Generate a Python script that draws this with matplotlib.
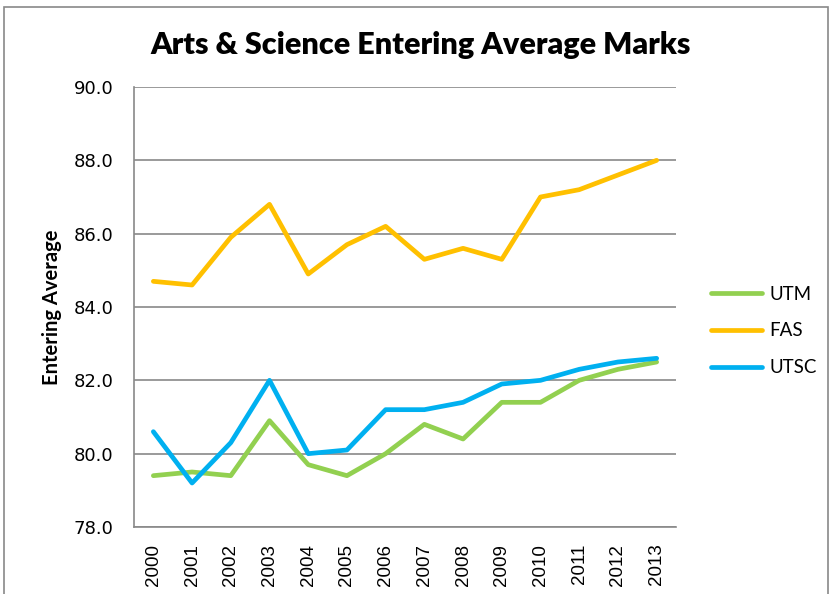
import matplotlib.pyplot as plt
from matplotlib.patches import Rectangle

# Entering averages
years = ['2000', '2001', '2002', '2003', '2004', '2005', '2006',
         '2007', '2008', '2009', '2010', '2011', '2012', '2013']
utm = [79.4, 79.5, 79.4, 80.9, 79.7, 79.4, 80.0, 80.8, 80.4, 81.4, 81.4, 82.0, 82.3, 82.5]
fas = [84.7, 84.6, 85.9, 86.8, 84.9, 85.7, 86.2, 85.3, 85.6, 85.3, 87.0, 87.2, 87.6, 88.0]
utsc = [80.6, 79.2, 80.3, 82.0, 80.0, 80.1, 81.2, 81.2, 81.4, 81.9, 82.0, 82.3, 82.5, 82.6]
yticks = [78.0, 80.0, 82.0, 84.0, 86.0, 88.0, 90.0]

W, H = 830, 594
fig = plt.figure(figsize=(W / 100, H / 100), dpi=100)
ax = fig.add_axes([134 / W, 1 - 527 / H, (676 - 134) / W, (527 - 87) / H])

x = range(len(years))
ax.plot(x, utm, color='#92D050', lw=3.4, label='UTM', solid_capstyle='round')
ax.plot(x, fas, color='#FFC000', lw=3.4, label='FAS', solid_capstyle='round')
ax.plot(x, utsc, color='#00B0F0', lw=3.4, label='UTSC', solid_capstyle='round')

ax.set_xlim(-0.5, len(years) - 0.5)
ax.set_ylim(78, 90)
ax.set_yticks(yticks)
ax.set_yticklabels(['%.1f' % v for v in yticks], fontsize=13, family='DejaVu Sans')
ax.set_xticks(list(x))
ax.set_xticklabels(years, rotation=90, fontsize=13.5, family='Liberation Sans')
ax.tick_params(length=0)
ax.tick_params(axis='y', pad=15)
ax.tick_params(axis='x', pad=12)
ax.grid(axis='y', color='#898989', lw=1.2)
ax.set_axisbelow(True)
for s in ['top', 'right']:
    ax.spines[s].set_visible(False)
for s in ['left', 'bottom']:
    ax.spines[s].set_color('#898989')
    ax.spines[s].set_linewidth(1.2)

ax.set_ylabel('Entering Average', fontsize=14.5, fontweight='bold', family='Lato', labelpad=8)
fig.text(421 / W, 1 - 45 / H, 'Arts & Science Entering Average Marks',
         ha='center', va='center', fontsize=22, fontweight='heavy', family='Lato')

fig.legend(loc='center left', bbox_to_anchor=(694 / W, 1 - 331 / H), frameon=False,
           prop={'family': 'Lato', 'size': 13.5}, handlelength=2.7,
           handletextpad=0.4, labelspacing=1.05)

fig.patches.append(Rectangle((4 / W, -0.1), (824 / W), 1.1 - 7 / H, transform=fig.transFigure,
                             fill=False, edgecolor='#898989', lw=1.2))

fig.savefig('out.png', dpi=100)
